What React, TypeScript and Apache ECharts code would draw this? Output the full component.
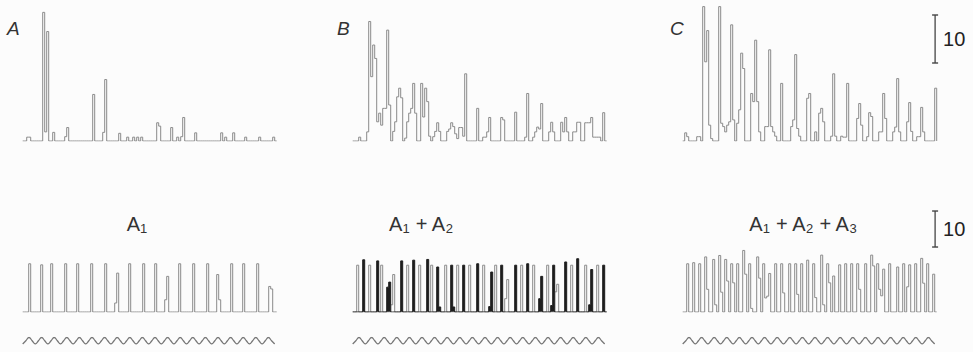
import { useEffect, useRef } from "react";
import * as echarts from "echarts";

// Histogram bins (each bin = one time slot); sparse lists of [bin, count]
const binCount = 127;

const topA: [number, number][] = [
  [2, 0.8], [3, 0.8], [10, 26.8], [11, 1.9], [12, 22.8], [15, 1.8], [21, 0.9], [22, 2.8],
  [35, 9.7], [40, 1.8], [41, 12.8], [48, 1.6], [52, 0.8], [55, 0.8], [57, 0.8], [59, 0.8],
  [67, 3.8], [68, 3.1], [74, 2.8], [77, 0.8], [79, 0.9], [80, 4.9], [86, 1.7], [99, 1.7],
  [101, 0.8], [105, 1.7], [111, 0.8], [118, 0.8], [125, 0.8],
];

const topB: [number, number][] = [
  [3, 0.8], [7, 1.9], [8, 24.9], [9, 13.4], [10, 20], [11, 17.2], [12, 4], [13, 5.8], [14, 3.3],
  [15, 6.8], [16, 6.8], [17, 23.1], [18, 7.5],
  [20, 2], [21, 4], [22, 9.2], [23, 11], [24, 9],
  [26, 0.6], [27, 4], [28, 5.8], [29, 6.8], [30, 12], [31, 5.8],
  [34, 12], [35, 5], [36, 11], [37, 8.2], [38, 1],
  [40, 0.9], [41, 2], [42, 3.8], [43, 2],
  [47, 2], [48, 2.5], [49, 3.8], [50, 3], [51, 1.5], [52, 0.5],
  [53, 2.8], [54, 2.8], [55, 1], [56, 14],
  [62, 6.8],
  [65, 0.8], [66, 0.8], [67, 1.9], [68, 4.9],
  [74, 4.9], [75, 4.4],
  [81, 6],
  [86, 0.8], [87, 9.9],
  [90, 0.8], [91, 1.9], [92, 2.9], [93, 2.5], [94, 7.8],
  [98, 1.9], [99, 3.9], [100, 1.9],
  [104, 3.9], [105, 1.9], [106, 4.9], [107, 1.9],
  [110, 1.9], [111, 1.9], [112, 3.9], [113, 3.9],
  [116, 3.8], [117, 3.8], [118, 3.8], [119, 4.9], [120, 0.8], [121, 0.8], [122, 0.8], [123, 0.8],
  [125, 5.9],
];

const topC: [number, number][] = [
  [1, 1.7], [2, 0.9], [7, 0.9], [8, 0.9],
  [10, 28], [11, 16.5], [12, 23], [13, 3.3], [14, 0.5],
  [18, 28], [19, 3.7], [20, 3], [21, 1.9], [22, 3.3], [23, 4], [24, 24.2], [25, 4.4],
  [27, 3.7], [28, 6.5], [29, 18.3], [30, 15.1],
  [34, 9.9], [35, 8.2], [36, 21], [37, 8.2], [38, 1.9],
  [41, 3], [42, 3], [43, 19], [44, 3], [45, 1.9], [46, 1],
  [49, 12],
  [54, 3], [55, 4.4], [56, 18], [57, 2.6], [58, 1],
  [62, 8.9], [63, 9.9],
  [66, 1.9],
  [68, 5.8], [69, 6.8], [70, 4],
  [74, 1], [75, 14], [76, 1],
  [79, 1], [80, 0.8], [81, 0.8], [82, 12],
  [87, 4.7], [88, 7.8], [89, 3.3],
  [92, 0.9], [93, 5.9], [94, 5.1],
  [98, 1.9], [99, 1.9], [100, 9.9], [101, 4.7],
  [105, 1.9], [106, 2.9], [107, 13], [108, 1.9],
  [112, 4], [113, 8], [114, 2],
  [117, 0.9], [118, 0.9], [119, 7], [120, 1.9],
  [126, 11],
];

const bottomA: [number, number][] = [
  [3, 13.4], [9, 13.1], [14, 13.4], [21, 13.4], [27, 13.4], [34, 13.4], [41, 13.4],
  [46, 2.5], [47, 10.8], [53, 13.4], [60, 13.4], [66, 13.4], [71, 3.4], [72, 9.9],
  [78, 13.4], [85, 13.4], [92, 13.4], [97, 10.4], [98, 3.4], [104, 13.4], [110, 13.4],
  [117, 13.4], [123, 7.1], [124, 6.4],
];

const bottomBGray: [number, number][] = [
  [2, 13], [8, 13], [14, 13], [19, 2], [20, 10.4], [27, 13], [33, 13], [39, 13], [46, 13],
  [52, 13], [58, 13], [65, 13], [71, 13], [76, 3.7], [77, 9], [84, 13], [90, 13], [97, 13],
  [101, 5.6], [102, 7.7], [109, 13], [116, 13], [122, 13],
];

const bottomBBlack: [number, number][] = [
  [5, 14.5], [12, 14.2], [17, 6.9], [18, 8.3], [24, 14.2], [30, 14.4], [37, 14.6],
  [42, 12.5], [43, 1.4], [49, 13], [50, 1.4], [55, 13], [62, 13.4], [68, 1.5], [69, 11.1],
  [74, 13], [81, 13], [87, 13.4], [93, 3.7], [94, 9.9], [99, 1.8], [100, 13], [106, 13.9],
  [112, 14.8], [118, 2], [119, 11.8], [125, 13],
];

const bottomC: [number, number][] = [
  [2, 13.4], [5, 13.7], [8, 13.4], [11, 15.3], [12, 6.3], [15, 14.6], [16, 2],
  [18, 15.7], [19, 5.5], [21, 14.6], [22, 8.6], [24, 13.4], [25, 8.1], [27, 13.4],
  [30, 17.1], [31, 10.5], [33, 13.4], [34, 1], [37, 15.3], [38, 9.4], [40, 13.4], [41, 3.9],
  [42, 4.4], [43, 10.7], [46, 13.4], [49, 13.4], [50, 5.3], [53, 13.4], [56, 13.4], [57, 4.9],
  [59, 13.4], [62, 14.4], [65, 13.4], [66, 4], [69, 15.8], [70, 2], [72, 13.4], [73, 8.1],
  [75, 10], [78, 13.1], [81, 13.4], [84, 13.4], [87, 13.4], [88, 6.3], [91, 13.4],
  [94, 15.8], [95, 12.8], [97, 13.4], [98, 6.3], [99, 4.5], [100, 11.9], [103, 13.4],
  [107, 12.5], [110, 13.4], [112, 7], [113, 13.1], [116, 13.4], [119, 14.9], [120, 8],
  [122, 13.4], [125, 10.5],
];

// Sinusoidal stimulus: number of cycles and the quarter-cycle shape
const stimulusCycles = 20;
const stimulusShape = [-1, 0, 1, 0];

// Scale bar (counts)
const scaleBarCounts = 10;
const scaleBarTopBase = 16.25;
const scaleBarBottomBase = 18.05;
const scaleBarBin = 126.2;

const panelLetters = ["A", "B", "C"];
const bottomLabels = [
  "{a|A}{s|1}",
  "{a|A}{s|1}{a| + A}{s|2}",
  "{a|A}{s|1}{a| + A}{s|2}{a| + A}{s|3}",
];

const FONT = "'Liberation Sans', Arial, Helvetica, sans-serif";
const LINE = "#8a8a8a";

function toSteps(sparse: [number, number][]) {
  const counts = new Array(binCount).fill(0);
  sparse.forEach(([b, c]) => {
    counts[b] = c;
  });
  const pts: number[][] = counts.map((c, i) => [i, c]);
  pts.push([binCount, 0]);
  return pts;
}

function stimulusData() {
  const n = stimulusCycles * stimulusShape.length;
  const pts: number[][] = [];
  for (let k = 0; k <= n; k++) {
    pts.push([(k * (binCount - 1)) / n, stimulusShape[k % stimulusShape.length]]);
  }
  return pts;
}

export default function App() {
  const ref = useRef<HTMLDivElement>(null);
  useEffect(() => {
    if (!ref.current) return;
    const chart = echarts.init(ref.current, null, { renderer: "svg" });
    const lefts = [22.7, 352.7, 682.7];
    const width = 254;
    const grids: any[] = [];
    const xAxes: any[] = [];
    const yAxes: any[] = [];
    lefts.forEach((l) => {
      grids.push({ left: l, top: 3, width, height: 138 });
      yAxes.push({ type: "value", min: 0, max: 28.75, show: false, gridIndex: grids.length - 1 });
      xAxes.push({ type: "value", min: 0, max: binCount, show: false, gridIndex: grids.length - 1 });
    });
    lefts.forEach((l) => {
      grids.push({ left: l, top: 204, width, height: 108 });
      yAxes.push({ type: "value", min: 0, max: 30, show: false, gridIndex: grids.length - 1 });
      xAxes.push({ type: "value", min: 0, max: binCount, show: false, gridIndex: grids.length - 1 });
    });
    lefts.forEach((l) => {
      grids.push({ left: l, top: 337.5, width, height: 6.5 });
      yAxes.push({ type: "value", min: -1, max: 1, show: false, gridIndex: grids.length - 1 });
      xAxes.push({ type: "value", min: 0, max: binCount, show: false, gridIndex: grids.length - 1 });
    });

    const hist = (data: [number, number][], idx: number, extra: any = {}) => ({
      type: "line",
      step: "end",
      data: toSteps(data),
      xAxisIndex: idx,
      yAxisIndex: idx,
      symbol: "none",
      silent: true,
      lineStyle: { color: LINE, width: 1 },
      ...extra,
    });

    const scaleBar = (idx: number, base: number) => ({
      type: "line",
      xAxisIndex: idx,
      yAxisIndex: idx,
      silent: true,
      symbol: "rect",
      symbolSize: [6, 1.4],
      itemStyle: { color: "#444" },
      lineStyle: { color: "#444", width: 1.3 },
      data: [
        [scaleBarBin, base],
        [scaleBarBin, base + scaleBarCounts],
      ],
    });

    const stim = (idx: number) => ({
      type: "line",
      smooth: 0.5,
      data: stimulusData(),
      xAxisIndex: idx,
      yAxisIndex: idx,
      symbol: "none",
      silent: true,
      lineStyle: { color: "#777", width: 1.3 },
    });

    const series: any[] = [
      hist(topA, 0),
      hist(topB, 1),
      hist(topC, 2),
      hist(bottomA, 3),
      hist(bottomBGray, 4),
      hist(bottomBBlack, 4, {
        lineStyle: { color: "#1e1e1e", width: 1 },
        areaStyle: { color: "#1e1e1e", opacity: 1 },
      }),
      hist(bottomC, 5),
      scaleBar(2, scaleBarTopBase),
      scaleBar(5, scaleBarBottomBase),
      stim(6),
      stim(7),
      stim(8),
    ];

    chart.setOption({
      animation: false,
      backgroundColor: "#fcfcfc",
      grid: grids,
      xAxis: xAxes,
      yAxis: yAxes,
      series,
    });

    const letterX = [7, 337, 670];
    const labelCenters = [137, 421, 803];
    const graphic: any[] = [];
    panelLetters.forEach((t, i) => {
      graphic.push({
        type: "text",
        left: letterX[i],
        top: 19,
        style: {
          text: t,
          font: `italic 19px ${FONT}`,
          fill: "#333",
        },
      });
    });
    bottomLabels.forEach((t, i) => {
      graphic.push({
        type: "text",
        x: labelCenters[i],
        y: 212,
        style: {
          text: t,
          align: "center",
          verticalAlign: "top",
          fill: "#333",
          rich: {
            a: { fontSize: 20, fontFamily: FONT, fill: "#333", lineHeight: 23, verticalAlign: "middle" },
            s: { fontSize: 13, fontFamily: FONT, fill: "#333", lineHeight: 13, verticalAlign: "bottom" },
          },
        },
      });
    });
    // "10" labels beside the scale bars, positioned through the chart's own scales
    [
      [2, scaleBarTopBase],
      [5, scaleBarBottomBase],
    ].forEach(([idx, base]) => {
      const p = chart.convertToPixel(
        { xAxisIndex: idx, yAxisIndex: idx },
        [scaleBarBin, base + scaleBarCounts / 2]
      ) as number[];
      graphic.push({
        type: "text",
        x: p[0] + 8,
        y: p[1],
        style: {
          text: String(scaleBarCounts),
          font: `20px ${FONT}`,
          fill: "#222",
          verticalAlign: "middle",
          align: "left",
        },
      });
    });
    chart.setOption({ graphic });
    return () => chart.dispose();
  }, []);
  return (
    <div
      ref={ref}
      style={{ position: "absolute", left: 0, top: 0, width: 973, height: 352 }}
    />
  );
}
